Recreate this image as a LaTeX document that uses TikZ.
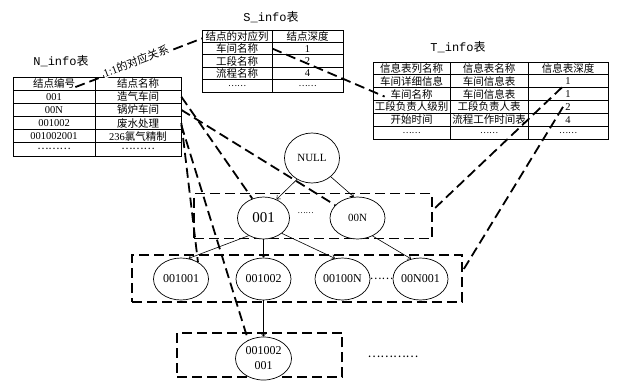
\documentclass[tikz,border=0pt]{standalone}
\usepackage{fontspec}
\setmainfont{Liberation Serif}
\newfontfamily\cjk{Noto Sans CJK SC}
\newfontfamily\monof{Liberation Mono}
\usetikzlibrary{arrows.meta,shapes.geometric}
\newcommand\myNdots{{\cjk\fontsize{10.5}{12}\selectfont ………}}
\newcommand\mySdots{{\cjk\fontsize{8.5}{10}\selectfont ……}}
\begin{document}
\begin{tikzpicture}[x=1pt,y=-1pt,
  ttl/.style={inner sep=1pt, font=\fontsize{12}{14}\selectfont\monof},
  cellbox/.style={draw, line width=0.7pt, inner sep=0pt, font=\fontsize{10.5}{12}\selectfont},
  nA/.style={cellbox, minimum width=82pt, minimum height=13.17pt},
  nB/.style={cellbox, minimum width=86pt, minimum height=13.17pt},
  sA/.style={cellbox, minimum width=70pt, minimum height=12.4pt},
  sB/.style={cellbox, minimum width=71pt, minimum height=12.4pt},
  tA/.style={cellbox, minimum width=77pt, minimum height=12.83pt},
  tB/.style={cellbox, minimum width=78pt, minimum height=12.83pt},
  tC/.style={cellbox, minimum width=80pt, minimum height=12.83pt},
  ell/.style={draw, ellipse, line width=0.7pt, inner sep=0pt, fill=white},
  r2/.style={ell, minimum width=55pt, minimum height=42pt, font=\fontsize{12}{14}\selectfont},
  link/.style={line width=1.8pt, dash pattern=on 10pt off 5pt},
  grp/.style={draw, link, inner sep=0pt, rectangle},
  arr/.style={line width=0.6pt, -{Straight Barb[length=3pt,width=5pt]}}
]
\fill[white] (0,0) rectangle (617,381);
\useasboundingbox (0,0) rectangle (617,381);

% titles
\node[ttl] (tN) at (61,61) {N\_info{\cjk 表}};
\node[ttl] (tS) at (271,17) {S\_info{\cjk 表}};
\node[ttl] (tT) at (458,47) {T\_info{\cjk 表}};

% N_info table
\node[nA] (nA1) at (54,83.6) {{\cjk 结点编号}};
\node[nB] (nB1) at (138,83.6) {{\cjk 结点名称}};
\node[nA] (nA2) at (54,96.75) {001};
\node[nB] (nB2) at (138,96.75) {{\cjk 造气车间}};
\node[nA] (nA3) at (54,109.9) {00N};
\node[nB] (nB3) at (138,109.9) {{\cjk 锅炉车间}};
\node[nA] (nA4) at (54,123.1) {001002};
\node[nB] (nB4) at (138,123.1) {{\cjk 废水处理}};
\node[nA] (nA5) at (54,136.25) {001002001};
\node[nB] (nB5) at (138,136.25) {236{\cjk 氯气精制}};
\node[nA] (nA6) at (54,149.4) {\myNdots};
\node[nB] (nB6) at (138,149.4) {\myNdots};

% S_info table
\node[sA] (sA1) at (237,36.2) {{\cjk 结点的对应列}};
\node[sB] (sB1) at (307.5,36.2) {{\cjk 结点深度}};
\node[sA] (sA2) at (237,48.6) {{\cjk 车间名称}};
\node[sB] (sB2) at (307.5,48.6) {1};
\node[sA] (sA3) at (237,61) {{\cjk 工段名称}};
\node[sB] (sB3) at (307.5,61) {2};
\node[sA] (sA4) at (237,73.4) {{\cjk 流程名称}};
\node[sB] (sB4) at (307.5,73.4) {4};
\node[sA] (sA5) at (237,85.8) {\mySdots};
\node[sB] (sB5) at (307.5,85.8) {\mySdots};

% T_info table
\node[tA] (tA1) at (411.5,68.4) {{\cjk 信息表列名称}};
\node[tB] (tB1) at (489,68.4) {{\cjk 信息表名称}};
\node[tC] (tC1) at (568,68.4) {{\cjk 信息表深度}};
\node[tA] (tA2) at (411.5,81.25) {{\cjk 车间详细信息}};
\node[tB] (tB2) at (489,81.25) {{\cjk 车间信息表}};
\node[tC] (tC2) at (568,81.25) {1};
\node[tA] (tA3) at (411.5,94.1) {{\cjk 车间名称}};
\node[tB] (tB3) at (489,94.1) {{\cjk 车间信息表}};
\node[tC] (tC3) at (568,94.1) {1};
\node[tA] (tA4) at (411.5,106.9) {{\cjk 工段负责人级别}};
\node[tB] (tB4) at (489,106.9) {{\cjk 工段负责人表}};
\node[tC] (tC4) at (568,106.9) {2};
\node[tA] (tA5) at (411.5,119.75) {{\cjk 开始时间}};
\node[tB] (tB5) at (489,119.75) {{\cjk 流程工作时间表}};
\node[tC] (tC5) at (568,119.75) {4};
\node[tA] (tA6) at (411.5,132.6) {\mySdots};
\node[tB] (tB6) at (489,132.6) {\mySdots};
\node[tC] (tC6) at (568,132.6) {\mySdots};

% group boxes
\node[grp, minimum width=238pt, minimum height=45pt] (box1) at (313,216) {};
\node[grp, minimum width=330pt, minimum height=47pt] (box2) at (297,278.5) {};
\node[grp, minimum width=165pt, minimum height=44.5pt] (box3) at (259.5,355) {};

% tree nodes
\node[ell, minimum width=55pt, minimum height=50pt, font=\fontsize{11}{13}\selectfont] (NULL) at (312,158) {NULL};
\node[ell, minimum width=52pt, minimum height=42pt, font=\fontsize{15}{17}\selectfont] (e001) at (263.5,218) {001};
\node[ell, minimum width=55pt, minimum height=42pt, font=\fontsize{11}{13}\selectfont] (e00N) at (357.5,218) {00N};
\node[r2] (e001001) at (181,279) {001001};
\node[r2] (e001002) at (263.5,279) {001002};
\node[r2] (e00100N) at (342.5,279) {00100N};
\node[r2] (e00N001) at (420.5,279) {00N001};
\node[ell, minimum width=56pt, minimum height=43pt, align=center, font=\fontsize{12}{15}\selectfont] (ebot) at (263.5,358.5) {001002\\001};

\node[inner sep=0pt, font=\cjk\fontsize{7.5}{9}\selectfont] (d1) at (305.5,213.5) {……};
\node[inner sep=0pt, font=\cjk\fontsize{11}{13}\selectfont] (d2) at (381.5,279) {……};
\node[inner sep=0pt, font=\cjk\fontsize{12}{14}\selectfont] (d3) at (393,357) {…………};

% tree arrows
\draw[arr] (NULL.-125) -- (e001.55);
\draw[arr] (NULL.-45) -- (e00N.100);
\draw[arr] (e001.230) -- (e001001.70);
\draw[arr] (e001.south) -- (e001002.north);
\draw[arr] (e001.-40) -- (e00100N.110);
\draw[arr] (e00N.-50) -- (e00N001.115);
\draw[arr] (e001002.south) -- (ebot.north);

% dashed mapping links
\draw[link] ([shift={(-20,3.5)}]nA1.east) -- ([shift={(1,2)}]sA1.west);
\node[fill=white, inner sep=0.5pt, rotate=20.5, font=\fontsize{11}{13}\selectfont] (lbl) at (136,61) {1:1{\cjk 的对应关系}};
\draw[link] (nB2.east) -- (e001.120);
\draw[link] (nB3.east) -- (e00N.150);
\draw[link] (nB4.east) -- (e001001.45);
\draw[link] ([shift={(0,2)}]nB4.east) -- (ebot.130);
\draw[link] (sA2.east) -- ([shift={(12,2.5)}]tA3.west);
\draw[link] ([xshift=-6pt]tC3.north) -- ([yshift=6pt]box1.east);
\draw[link] ([xshift=-5pt]tC4.center) -- ([yshift=8pt]box2.east);
\end{tikzpicture}
\end{document}
